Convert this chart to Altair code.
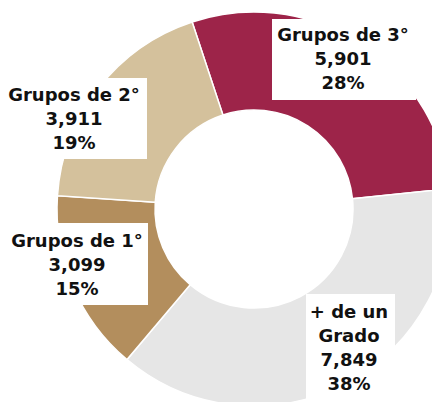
import math
import altair as alt
import pandas as pd

# ---- data ----
categories = ["Grupos de 3°", "+ de un Grado", "Grupos de 1°", "Grupos de 2°"]
label_lines = [["Grupos de 3°"], ["+ de un", "Grado"], ["Grupos de 1°"], ["Grupos de 2°"]]
values = [5901, 7849, 3099, 3911]
colors = ["#9D2449", "#E6E6E6", "#B38E5D", "#D4C19C"]

total = sum(values)
df = pd.DataFrame({"cat": categories, "value": values, "ord": list(range(len(values)))})

# ---- layout (pixels inside the plot area) ----
W, H = 424, 394
CX, CY = 246, 201
R_IN, R_OUT = 99, 197
start = 2 * math.pi - math.radians(18.3)

box_x0 = [264, 298, 0, 0]
box_x1 = [408, 387, 140, 139]
box_y0 = [11, 286, 215, 70]
box_y1 = [92, 400, 297, 151]
text_x = [335, 341, 69, 66]
text_y = [28, 305, 234, 88]

labels = pd.DataFrame({
    "label": ["\n".join(l + [f"{v:,}", f"{round(100 * v / total)}%"]) for l, v in zip(label_lines, values)],
    "x0": box_x0, "x1": box_x1, "y0": box_y0, "y1": box_y1,
    "tx": text_x, "ty": text_y,
})

arcs = alt.Chart(df).mark_arc(
    innerRadius=R_IN, outerRadius=R_OUT, stroke="white", strokeWidth=1.5, clip=True
).encode(
    theta=alt.Theta("value:Q", stack=True, scale=alt.Scale(range=[start, start + 2 * math.pi])),
    color=alt.Color("cat:N", scale=alt.Scale(domain=categories, range=colors), legend=None),
    order=alt.Order("ord:Q"),
    x=alt.value(CX),
    y=alt.value(CY),
)

boxes = alt.Chart(labels).mark_rect(color="white", clip=True).encode(
    x=alt.X("x0:Q", scale=None), x2="x1:Q",
    y=alt.Y("y0:Q", scale=None), y2="y1:Q",
)

texts = alt.Chart(labels).mark_text(
    lineBreak="\n", font="DejaVu Sans", fontWeight="bold", fontSize=18,
    lineHeight=24, align="center", baseline="middle", color="#111111",
).encode(
    x=alt.X("tx:Q", scale=None),
    y=alt.Y("ty:Q", scale=None),
    text="label:N",
)

chart = alt.layer(arcs, boxes, texts).properties(
    width=W, height=H, padding=0, background="white"
).configure_view(strokeWidth=0)

chart.save("out.html", embed_options={"renderer": "svg", "actions": False})
